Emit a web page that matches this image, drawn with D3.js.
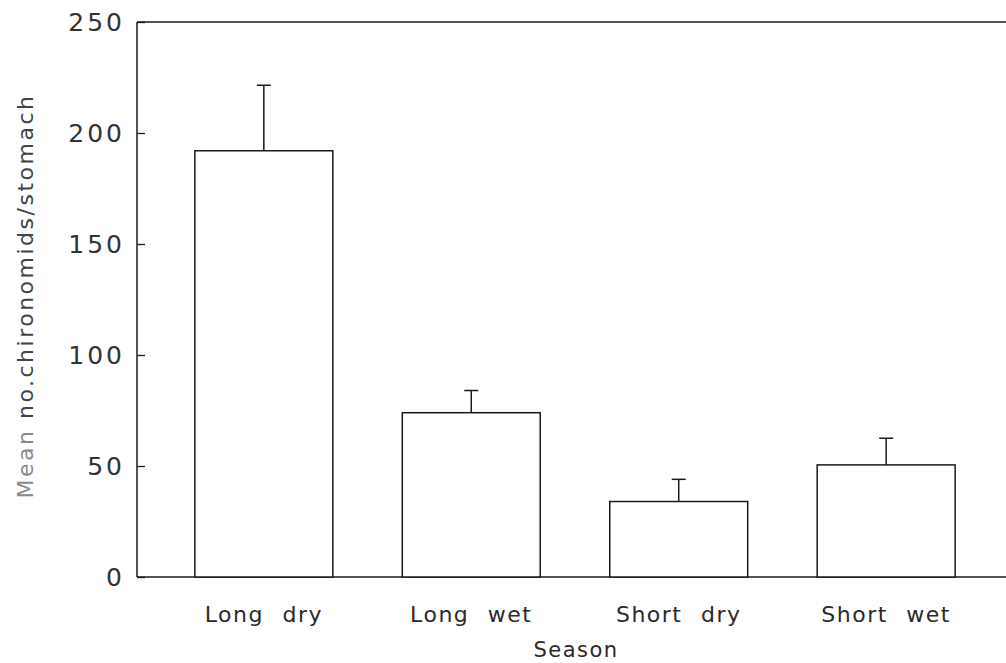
<!DOCTYPE html>
<html>
<head>
<meta charset="utf-8">
<script src="https://cdn.jsdelivr.net/npm/d3@7"></script>
<style>
  body { margin: 0; background: #fff; }
  svg text { font-family: "DejaVu Sans", sans-serif; fill: #2a2a2a; }
</style>
</head>
<body>
<div id="chart"></div>
<script>
// values
const seasons = ['Long dry', 'Long wet', 'Short dry', 'Short wet'];
const means = [192, 74, 34, 50.5];
const errors = [29.5, 10, 10, 12];
const yTicks = [0, 50, 100, 150, 200, 250];

const width = 1006;
const height = 663;
const plotLeft = 137, plotRight = 1006, plotTop = 22, plotBottom = 577;

const svg = d3.select('#chart').append('svg')
  .attr('width', width)
  .attr('height', height);

const y = d3.scaleLinear().domain([0, 250]).range([plotBottom, plotTop]);
const x = d3.scaleBand().domain(seasons)
  .range([143, 1007])
  .paddingInner(0.335)
  .paddingOuter(0.25);

const stroke = '#1a1a1a';

// frame: left, top and bottom lines
svg.append('line').attr('x1', plotLeft).attr('x2', plotLeft).attr('y1', plotTop).attr('y2', plotBottom)
  .style('stroke', stroke).style('stroke-width', 1.5);
svg.append('line').attr('x1', plotLeft).attr('x2', plotRight).attr('y1', plotTop).attr('y2', plotTop)
  .style('stroke', stroke).style('stroke-width', 1.5);
svg.append('line').attr('x1', plotLeft).attr('x2', plotRight).attr('y1', plotBottom).attr('y2', plotBottom)
  .style('stroke', stroke).style('stroke-width', 1.5);

// y ticks point inward
const yAxis = d3.axisRight(y).tickValues(yTicks).tickSize(8).tickFormat('');
const gy = svg.append('g').attr('transform', `translate(${plotLeft},0)`).call(yAxis);
gy.select('.domain').remove();
gy.selectAll('.tick line').style('stroke', stroke).style('stroke-width', 1.3);

svg.append('g').classed('y-labels', true)
  .selectAll('text')
  .data(yTicks)
  .enter()
  .append('text')
  .attr('x', 125)
  .attr('y', d => y(d))
  .attr('dy', '0.36em')
  .attr('text-anchor', 'end')
  .style('font-size', '25px')
  .style('letter-spacing', '3px')
  .style('fill', '#333')
  .text(d => d);

// bars
svg.append('g').classed('bars', true)
  .selectAll('rect')
  .data(means)
  .enter()
  .append('rect')
  .attr('x', (d, i) => x(seasons[i]))
  .attr('y', d => y(d))
  .attr('width', x.bandwidth())
  .attr('height', d => y(0) - y(d))
  .style('fill', '#fff')
  .style('stroke', stroke)
  .style('stroke-width', 1.5);

// upper error bars
const errs = svg.append('g').classed('errors', true)
  .selectAll('g')
  .data(means)
  .enter()
  .append('g');
errs.append('line')
  .attr('x1', (d, i) => x(seasons[i]) + x.bandwidth() / 2)
  .attr('x2', (d, i) => x(seasons[i]) + x.bandwidth() / 2)
  .attr('y1', d => y(d))
  .attr('y2', (d, i) => y(d + errors[i]))
  .style('stroke', stroke).style('stroke-width', 1.5);
errs.append('line')
  .attr('x1', (d, i) => x(seasons[i]) + x.bandwidth() / 2 - 7)
  .attr('x2', (d, i) => x(seasons[i]) + x.bandwidth() / 2 + 7)
  .attr('y1', (d, i) => y(d + errors[i]))
  .attr('y2', (d, i) => y(d + errors[i]))
  .style('stroke', stroke).style('stroke-width', 1.5);

// category labels
svg.append('g').classed('x-labels', true)
  .selectAll('text')
  .data(seasons)
  .enter()
  .append('text')
  .attr('x', d => x(d) + x.bandwidth() / 2)
  .attr('y', 622)
  .attr('text-anchor', 'middle')
  .style('font-size', '22px')
  .style('letter-spacing', '1.5px')
  .style('word-spacing', '10px')
  .text(d => d);

svg.append('text')
  .attr('x', 576)
  .attr('y', 657)
  .attr('text-anchor', 'middle')
  .style('font-size', '21px')
  .style('letter-spacing', '1.5px')
  .text('Season');

const yTitle = svg.append('text')
  .attr('transform', 'translate(33, 296) rotate(-90)')
  .attr('text-anchor', 'middle')
  .style('font-size', '22px')
  .style('letter-spacing', '2.5px');
yTitle.append('tspan').style('fill', '#8a8a8a').text('Mean ');
yTitle.append('tspan').style('fill', '#444').text('no.chironomids/stomach');
</script>
</body>
</html>
